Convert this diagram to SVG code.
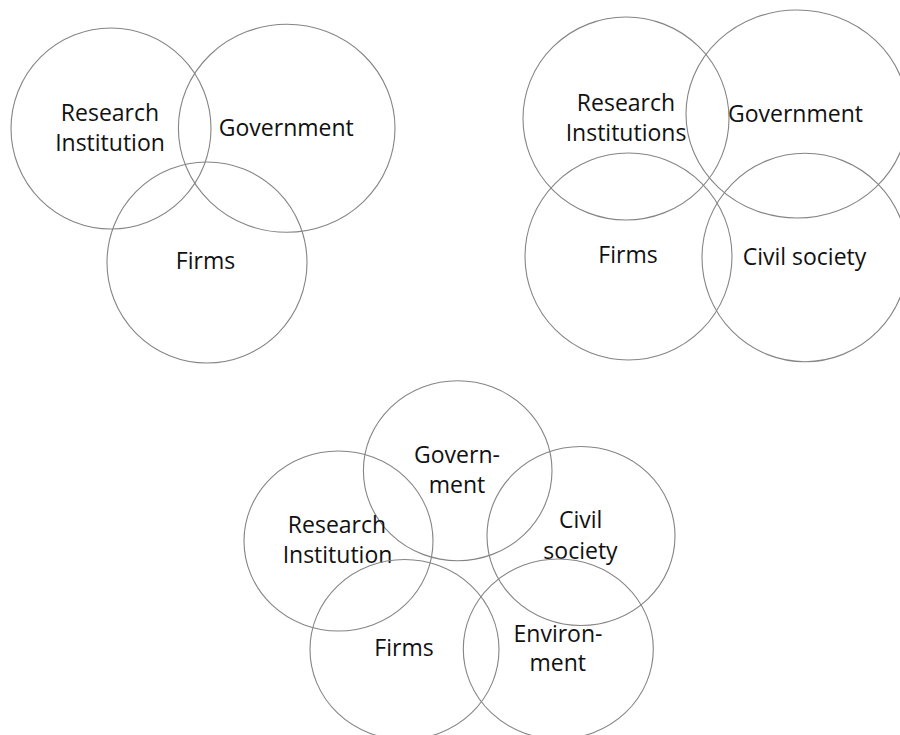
<svg xmlns="http://www.w3.org/2000/svg" width="900" height="735" viewBox="0 0 900 735">
<style>
.c{fill:none;stroke:#858585;stroke-width:1.1}
.t{font-family:"Open Sans","Noto Sans",sans-serif;font-size:23px;fill:#111;text-anchor:middle}
</style>
<rect width="900" height="735" fill="#fff"/>
<g id="diagram1">
<g id="d1-research"><ellipse class="c" cx="111" cy="128.5" rx="100" ry="100.5"/><text class="t" x="110" y="120.7">Research</text><text class="t" x="110" y="150.7">Institution</text></g>
<g id="d1-government"><ellipse class="c" cx="286.7" cy="128.3" rx="108.3" ry="104"/><text class="t" x="286.3" y="136">Government</text></g>
<g id="d1-firms"><ellipse class="c" cx="207" cy="262.5" rx="100" ry="100.5"/><text class="t" x="205.5" y="269.3">Firms</text></g>
</g>
<g id="diagram2">
<g id="d2-research"><ellipse class="c" cx="626" cy="118.5" rx="103" ry="101.5"/><text class="t" x="626" y="110.7">Research</text><text class="t" x="626" y="140.5">Institutions</text></g>
<g id="d2-government"><ellipse class="c" cx="797" cy="114" rx="111" ry="104"/><text class="t" x="795.5" y="121.7">Government</text></g>
<g id="d2-firms"><ellipse class="c" cx="628.5" cy="256.5" rx="103.5" ry="103.5"/><text class="t" x="628" y="263.3">Firms</text></g>
<g id="d2-civil"><ellipse class="c" cx="805" cy="257.5" rx="103" ry="104.2"/><text class="t" x="804.5" y="265">Civil society</text></g>
</g>
<g id="diagram3">
<g id="d3-government"><ellipse class="c" cx="457.7" cy="470.7" rx="94.3" ry="90"/><text class="t" x="457" y="463.3">Govern-</text><text class="t" x="457" y="493.3">ment</text></g>
<g id="d3-research"><ellipse class="c" cx="338.5" cy="541" rx="94.5" ry="90"/><text class="t" x="337" y="533.3">Research</text><text class="t" x="337.5" y="563.3">Institution</text></g>
<g id="d3-civil"><ellipse class="c" cx="581" cy="536" rx="94" ry="89.5"/><text class="t" x="580.7" y="528">Civil</text><text class="t" x="580.5" y="559">society</text></g>
<g id="d3-firms"><ellipse class="c" cx="404.5" cy="649.5" rx="94.5" ry="90"/><text class="t" x="404" y="656">Firms</text></g>
<g id="d3-environment"><ellipse class="c" cx="558.3" cy="649" rx="95" ry="90"/><text class="t" x="558" y="641.7">Environ-</text><text class="t" x="557.7" y="670.7">ment</text></g>
</g>
</svg>
